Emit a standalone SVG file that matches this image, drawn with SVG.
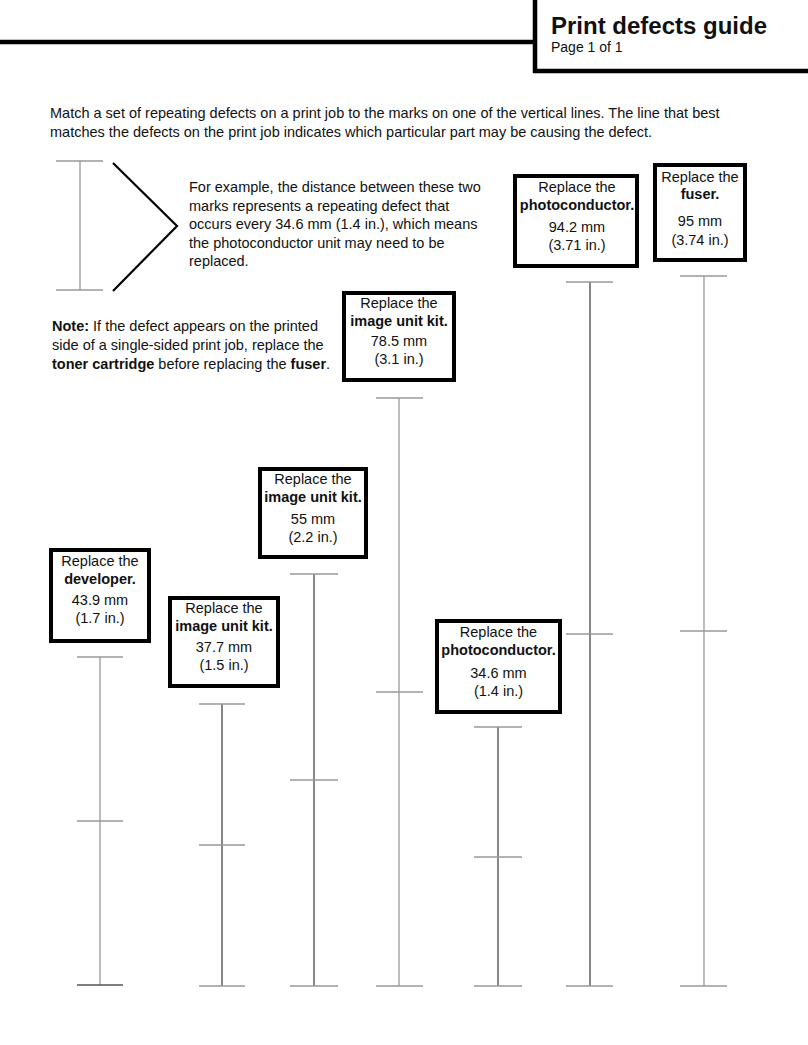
<svg xmlns="http://www.w3.org/2000/svg" width="808" height="1045" viewBox="0 0 808 1045">
<style>
text{font-family:"Liberation Sans",Arial,sans-serif;font-size:14.5px;fill:#111}
.c{text-anchor:middle}
.b{font-weight:bold}
.box{fill:#fff;stroke:#000;stroke-width:4}
.hd{stroke:#000;stroke-width:4.5;fill:none}
.dk{stroke:#444;stroke-width:1.3}
.lt{stroke:#999;stroke-width:1.3}
.tk{stroke:#999;stroke-width:1.3}
</style>
<rect width="808" height="1045" fill="#fff"/>
<g id="header">
<path class="hd" d="M0 42H535M535 0V71H808"/>
<text x="551" y="34" class="b" style="font-size:24px">Print defects guide</text>
<text x="551" y="52" style="font-size:14px">Page 1 of 1</text>
</g>
<g id="intro">
<text x="50" y="118">Match a set of repeating defects on a print job to the marks on one of the vertical lines. The line that best</text>
<text x="50" y="137">matches the defects on the print job indicates which particular part may be causing the defect.</text>
</g>
<g id="example">
<path class="lt" d="M80 161V290M56 161H103M56 290H103"/>
<path d="M113 163L177 226L113 291" fill="none" stroke="#000" stroke-width="2.2"/>
<text x="189" y="192">For example, the distance between these two</text>
<text x="189" y="210.5">marks represents a repeating defect that</text>
<text x="189" y="229">occurs every 34.6 mm (1.4 in.), which means</text>
<text x="189" y="247.5">the photoconductor unit may need to be</text>
<text x="189" y="266">replaced.</text>
</g>
<g id="note">
<text x="52" y="331"><tspan class="b">Note:</tspan> If the defect appears on the printed</text>
<text x="52" y="350">side of a single-sided print job, replace the</text>
<text x="52" y="369"><tspan class="b">toner cartridge</tspan> before replacing the <tspan class="b">fuser</tspan>.</text>
</g>
<g id="connectors">
<path class="lt" d="M100 657V985"/>
<path class="tk" d="M77 657H123M77 821H123"/>
<path d="M77 985H123" stroke="#555" stroke-width="1.6"/>
<path class="dk" d="M222 704V986"/>
<path class="tk" d="M199 704H245M199 845H245M199 986H245"/>
<path class="dk" d="M314 574V986"/>
<path class="tk" d="M290 574H338M290 780H338M290 986H338"/>
<path class="lt" d="M399 398V986"/>
<path class="tk" d="M376 398H423M376 692H423M376 986H423"/>
<path class="dk" d="M498 727V986"/>
<path class="tk" d="M474 727H522M474 857H522M474 986H522"/>
<path class="dk" d="M590 282V986"/>
<path class="tk" d="M566 282H613M566 634H613M566 986H613"/>
<path class="lt" d="M704 276V986"/>
<path class="tk" d="M680 276H727M680 631H727M680 986H727"/>
</g>
<g id="developer">
<rect class="box" x="51" y="550" width="98" height="91"/>
<text x="100" y="566" class="c">Replace the</text>
<text x="100" y="584" class="c b">developer.</text>
<text x="100" y="605" class="c">43.9 mm</text>
<text x="100" y="623" class="c">(1.7 in.)</text>
</g>
<g id="iuk-37">
<rect class="box" x="170" y="598" width="108" height="88"/>
<text x="224" y="613" class="c">Replace the</text>
<text x="224" y="631" class="c b">image unit kit.</text>
<text x="224" y="652" class="c">37.7 mm</text>
<text x="224" y="670" class="c">(1.5 in.)</text>
</g>
<g id="iuk-55">
<rect class="box" x="260" y="469" width="106" height="88"/>
<text x="313" y="484" class="c">Replace the</text>
<text x="313" y="502" class="c b">image unit kit.</text>
<text x="313" y="524" class="c">55 mm</text>
<text x="313" y="542" class="c">(2.2 in.)</text>
</g>
<g id="iuk-78">
<rect class="box" x="344" y="293" width="110" height="87"/>
<text x="399" y="308" class="c">Replace the</text>
<text x="399" y="326" class="c b">image unit kit.</text>
<text x="399" y="346" class="c">78.5 mm</text>
<text x="399" y="364" class="c">(3.1 in.)</text>
</g>
<g id="pc-34">
<rect class="box" x="437" y="621" width="123" height="91"/>
<text x="498.5" y="637" class="c">Replace the</text>
<text x="498.5" y="655" class="c b">photoconductor.</text>
<text x="498.5" y="678" class="c">34.6 mm</text>
<text x="498.5" y="696" class="c">(1.4 in.)</text>
</g>
<g id="pc-94">
<rect class="box" x="515" y="176" width="122" height="90"/>
<text x="577" y="192" class="c">Replace the</text>
<text x="577" y="210" class="c b">photoconductor.</text>
<text x="577" y="232" class="c">94.2 mm</text>
<text x="577" y="250" class="c">(3.71 in.)</text>
</g>
<g id="fuser">
<rect class="box" x="655" y="165" width="90" height="95"/>
<text x="700" y="182" class="c">Replace the</text>
<text x="700" y="199" class="c b">fuser.</text>
<text x="700" y="226" class="c">95 mm</text>
<text x="700" y="245" class="c">(3.74 in.)</text>
</g>
</svg>
